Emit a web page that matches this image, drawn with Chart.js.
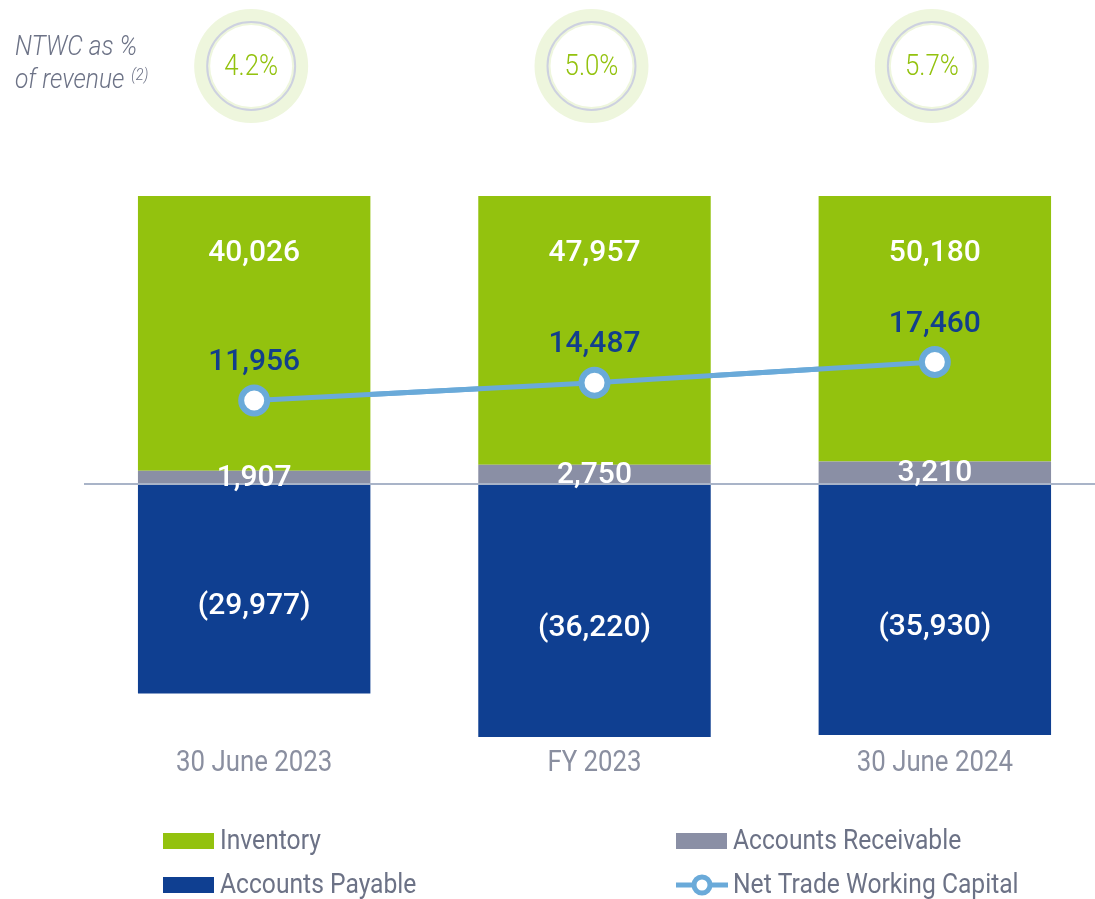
<!DOCTYPE html>
<html>
<head>
<meta charset="utf-8">
<script src="https://cdn.jsdelivr.net/npm/chart.js@4"></script>
<style>
  html, body { margin: 0; padding: 0; background: #fff; overflow: hidden; }
  #wrap { position: absolute; left: 0; top: 0; width: 1110px; height: 899px; }
</style>
</head>
<body>
<div id="wrap"><canvas id="chart"></canvas></div>
<script>
// Chart data
const categories = ['30 June 2023', 'FY 2023', '30 June 2024'];
const inventory = [40026, 47957, 50180];
const receivables = [1907, 2750, 3210];
const payables = [-29977, -36220, -35930];
const ntwc = [11956, 14487, 17460];
const ntwcPct = ['4.2%', '5.0%', '5.7%'];

const GREEN = '#93C20E';
const GREY = '#8A8FA5';
const BLUE = '#0F3F91';
const LINE = '#6AAAD9';
const TEXT = '#6C7286';

function fmt(v) {
    const s = Math.abs(v).toLocaleString('en-US');
    return v < 0 ? '(' + s + ')' : s;
}

// draw text squeezed horizontally (condensed look), returns drawn width
function txt(ctx, s, x, y, sx, align) {
    ctx.save();
    ctx.translate(x, y);
    ctx.scale(sx, 1);
    ctx.textAlign = align || 'center';
    ctx.textBaseline = 'middle';
    ctx.fillText(s, 0, 0);
    const w = ctx.measureText(s).width * sx;
    ctx.restore();
    return w;
}

const decorations = {
    id: 'decorations',
    afterDatasetsDraw(chart) {
        const ctx = chart.ctx;
        const x = chart.scales.x, y = chart.scales.y;
        const zero = y.getPixelForValue(0);

        // zero line
        ctx.save();
        ctx.strokeStyle = '#A9B4C8';
        ctx.lineWidth = 2;
        ctx.beginPath();
        ctx.moveTo(84, zero);
        ctx.lineTo(1095, zero);
        ctx.stroke();
        ctx.restore();

        // redraw the line dataset on top of the zero line
        chart.getDatasetMeta(3).controller.draw();

        ctx.save();
        categories.forEach((c, i) => {
            const cx = x.getPixelForValue(i);

            // revenue circles
            const rx = cx - 3;
            ctx.fillStyle = '#EEF6DD';
            ctx.beginPath(); ctx.arc(rx, 66, 57, 0, Math.PI * 2); ctx.fill();
            ctx.strokeStyle = '#CDD1E0';
            ctx.lineWidth = 2;
            ctx.beginPath(); ctx.arc(rx, 66, 44, 0, Math.PI * 2); ctx.stroke();
            ctx.fillStyle = '#fff';
            ctx.beginPath(); ctx.arc(rx, 66, 41, 0, Math.PI * 2); ctx.fill();
            ctx.fillStyle = GREEN;
            ctx.font = '300 30px Roboto';
            txt(ctx, ntwcPct[i], rx, 67, 0.86);

            // value labels
            ctx.fillStyle = '#fff';
            ctx.font = '500 30px Roboto';
            txt(ctx, fmt(inventory[i]), cx, chart.chartArea.top + 57, 1);
            const arTop = y.getPixelForValue(receivables[i]);
            txt(ctx, fmt(receivables[i]), cx, (arTop + zero) / 2 + 1, 1);
            const apBot = y.getPixelForValue(payables[i]);
            txt(ctx, fmt(payables[i]), cx, (zero + apBot) / 2 + 18, 1);

            ctx.fillStyle = '#123F8C';
            ctx.font = '500 30px Roboto';
            txt(ctx, fmt(ntwc[i]), cx, y.getPixelForValue(ntwc[i]) - 38, 1);

            // category labels
            ctx.fillStyle = '#8A8FA0';
            ctx.font = '400 30px Roboto';
            txt(ctx, c, cx, 763, 0.86);
        });

        // header note
        ctx.fillStyle = TEXT;
        ctx.font = 'italic 300 27px Roboto';
        txt(ctx, 'NTWC as %', 15, 48, 0.91, 'left');
        const w = txt(ctx, 'of revenue', 15, 81, 0.91, 'left');
        ctx.font = 'italic 300 16px Roboto';
        txt(ctx, '(2)', 15 + w + 7, 76, 0.91, 'left');

        // legend
        ctx.font = '400 28px Roboto';
        const items = [
            { label: 'Inventory', color: GREEN, x: 163, y: 841 },
            { label: 'Accounts Receivable', color: GREY, x: 676, y: 841 },
            { label: 'Accounts Payable', color: BLUE, x: 163, y: 885 }
        ];
        items.forEach(it => {
            ctx.fillStyle = it.color;
            ctx.fillRect(it.x, it.y - 8, 51, 16);
            ctx.fillStyle = TEXT;
            txt(ctx, it.label, it.x + 57, it.y + 1, 0.88, 'left');
        });
        ctx.strokeStyle = LINE;
        ctx.lineWidth = 5;
        ctx.beginPath(); ctx.moveTo(676, 885); ctx.lineTo(728, 885); ctx.stroke();
        ctx.fillStyle = '#fff';
        ctx.beginPath(); ctx.arc(702, 885, 8, 0, Math.PI * 2); ctx.fill(); ctx.stroke();
        ctx.fillStyle = TEXT;
        txt(ctx, 'Net Trade Working Capital', 733, 886, 0.88, 'left');
        ctx.restore();
    }
};

new Chart(document.getElementById('chart'), {
    type: 'bar',
    data: {
        labels: categories,
        datasets: [{
            label: 'Accounts Receivable',
            data: receivables,
            backgroundColor: GREY,
            stack: 'bars'
        }, {
            label: 'Inventory',
            data: inventory,
            backgroundColor: GREEN,
            stack: 'bars'
        }, {
            label: 'Accounts Payable',
            data: payables,
            backgroundColor: BLUE,
            stack: 'bars'
        }, {
            type: 'line',
            label: 'Net Trade Working Capital',
            data: ntwc,
            stack: 'line',
            borderColor: LINE,
            borderWidth: 5,
            pointRadius: 13,
            pointBorderWidth: 6,
            pointBackgroundColor: '#fff',
            pointBorderColor: LINE,
            tension: 0
        }]
    },
    options: {
        responsive: true,
        maintainAspectRatio: false,
        animation: false,
        devicePixelRatio: 1,
        layout: { autoPadding: false, padding: { left: 84, right: 5, top: 196, bottom: 159 } },
        datasets: { bar: { barPercentage: 0.683, categoryPercentage: 1 } },
        plugins: { legend: { display: false }, tooltip: { enabled: false } },
        scales: {
            x: { stacked: true, display: false },
            y: { stacked: true, display: false, min: -36650, max: 41230 }
        }
    },
    plugins: [decorations]
});
</script>
</body>
</html>
